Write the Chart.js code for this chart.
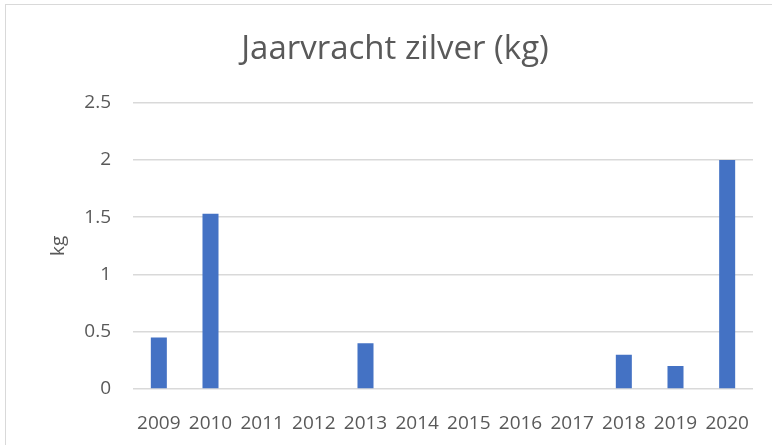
<!DOCTYPE html>
<html>
<head>
<meta charset="utf-8">
<script src="https://cdn.jsdelivr.net/npm/chart.js@4.4.1/dist/chart.umd.min.js"></script>
<style>
    body { margin: 0; background: #fff; overflow: hidden; }
    #kader { position: absolute; left: 5px; top: 4px; width: 800px; height: 500px; border: 1px solid #d9d9d9; }
    #houder { position: absolute; left: 0; top: 0; width: 772px; height: 445px; }
</style>
</head>
<body>
<div id="kader"></div>
<div id="houder"><canvas id="grafiekZilver"></canvas></div>
<script>
// Jaren en jaarvracht zilver (kg)
const jaren = ['2009', '2010', '2011', '2012', '2013', '2014', '2015', '2016', '2017', '2018', '2019', '2020'];
const vrachtZilver = [0.45, 1.53, 0, 0, 0.4, 0, 0, 0, 0, 0.3, 0.2, 2.0];
const yTicks = [0, 0.5, 1, 1.5, 2, 2.5];

const lettertype = "'Open Sans', sans-serif";
const grijsTekst = '#595959';

const ctx = document.getElementById('grafiekZilver');
new Chart(ctx, {
    type: 'bar',
    data: {
        labels: jaren,
        datasets: [{
            label: 'Jaarvracht zilver',
            data: vrachtZilver,
            backgroundColor: '#4472c4',
            borderWidth: 0,
            categoryPercentage: 1,
            barPercentage: 0.31
        }]
    },
    options: {
        responsive: true,
        maintainAspectRatio: false,
        animation: false,
        // links wat extra ruimte zodat de titel net als in Excel iets naar rechts staat
        layout: { padding: { left: 37, right: 19, top: 0, bottom: 0 } },
        plugins: {
            legend: { display: false },
            tooltip: { enabled: false },
            title: {
                display: true,
                text: 'Jaarvracht zilver (kg)',
                color: grijsTekst,
                font: { family: lettertype, size: 33, weight: 'normal' },
                padding: { top: 30, bottom: 33 }
            }
        },
        scales: {
            x: {
                grid: { display: false },
                border: { display: false },
                ticks: {
                    color: grijsTekst,
                    font: { family: lettertype, size: 19 },
                    padding: 15,
                    maxRotation: 0,
                    autoSkip: false
                },
                afterFit: (as) => { as.height = 56; }
            },
            y: {
                min: 0,
                max: 2.5,
                afterBuildTicks: (as) => { as.ticks = yTicks.map(v => ({ value: v })); },
                grid: { color: '#d9d9d9', lineWidth: 1.5, drawTicks: false },
                border: { display: false },
                ticks: {
                    color: grijsTekst,
                    font: { family: lettertype, size: 19 },
                    padding: 22,
                    callback: (v) => String(v)
                },
                title: {
                    display: true,
                    text: 'kg',
                    color: grijsTekst,
                    font: { family: lettertype, size: 19 },
                    padding: { top: 10, bottom: 0 }
                },
                afterFit: (as) => { as.width = 96; }
            }
        }
    }
});
</script>
</body>
</html>
